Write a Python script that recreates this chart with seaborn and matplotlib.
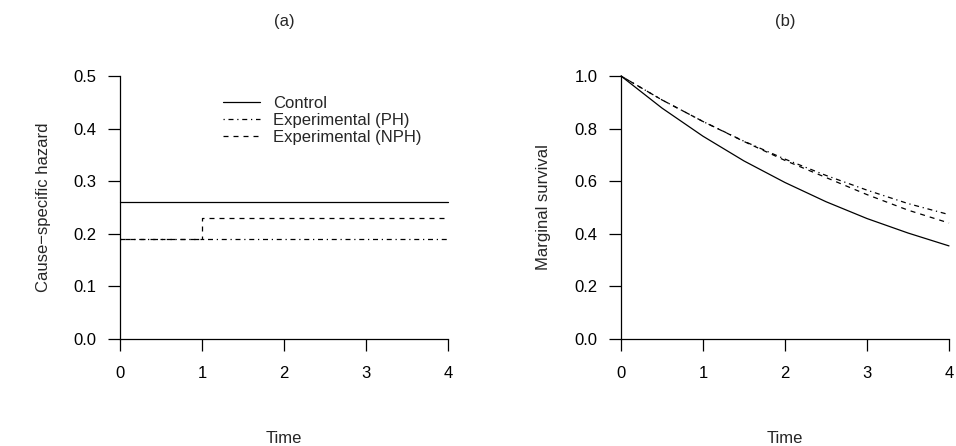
import numpy as np
import pandas as pd
import matplotlib
matplotlib.use("Agg")
import matplotlib.pyplot as plt
import seaborn as sns

# panel (a): cause-specific hazards (step functions)
haz_time = [0, 1, 4]
haz_control = [0.26, 0.26, 0.26]
haz_ph = [0.19, 0.19, 0.19]
haz_nph = [0.19, 0.23, 0.23]

# panel (b): marginal survival
surv_time = [0, 0.5, 1, 1.5, 2, 2.5, 3, 3.5, 4]
surv_control = [1.0, 0.878, 0.771, 0.677, 0.595, 0.522, 0.458, 0.403, 0.354]
surv_ph = [1.0, 0.909, 0.827, 0.752, 0.684, 0.622, 0.566, 0.515, 0.473]
surv_nph = [1.0, 0.909, 0.827, 0.751, 0.679, 0.614, 0.549, 0.490, 0.441]

labels = ["Control", "Experimental (PH)", "Experimental (NPH)"]
styles = ["-", (0, (1, 3, 4, 3)), (0, (4, 4))]

sns.set_style("ticks")
plt.rcParams['font.family'] = ['Liberation Sans', 'DejaVu Sans']
FS = 12

fig = plt.figure(figsize=(9.56, 4.46), dpi=100)
ax_a = fig.add_axes([120 / 956, 107 / 446, 328 / 956, 263 / 446])
ax_b = fig.add_axes([621 / 956, 107 / 446, 328 / 956, 263 / 446])

for vals, lab, ls in zip([haz_control, haz_ph, haz_nph], labels, styles):
    sns.lineplot(x=haz_time, y=vals, ax=ax_a, color="black", linewidth=0.9,
                 linestyle=ls, drawstyle="steps-post", label=lab, clip_on=False)

for vals, ls in zip([surv_control, surv_ph, surv_nph], styles):
    sns.lineplot(x=surv_time, y=vals, ax=ax_b, color="black", linewidth=0.9,
                 linestyle=ls, clip_on=False)

ax_a.legend(loc="upper left", bbox_to_anchor=(0.29, 0.955), frameon=False,
            borderpad=0, handlelength=2.2, handletextpad=0.8, labelspacing=0.12,
            fontsize=FS)

for ax, ymax, ylab, title, ypad in [(ax_a, 0.5, "Cause\u2212specific hazard", "(a)", 16),
                                    (ax_b, 1.0, "Marginal survival", "(b)", 17)]:
    ax.set_xlim(0, 4)
    ax.set_ylim(0, ymax)
    ax.set_xticks([0, 1, 2, 3, 4])
    ax.set_yticks(np.linspace(0, ymax, 6))
    ax.set_yticklabels([f"{v:.1f}" for v in np.linspace(0, ymax, 6)])
    ax.spines["top"].set_visible(False)
    ax.spines["right"].set_visible(False)
    for s in ["left", "bottom"]:
        ax.spines[s].set_linewidth(0.9)
        ax.spines[s].set_color("black")
    ax.tick_params(axis="both", direction="out", length=8.6, width=0.9,
                   colors="black", labelsize=FS)
    ax.tick_params(axis="x", pad=11)
    ax.tick_params(axis="y", pad=8.5)
    ax.set_xlabel("Time", fontsize=FS, labelpad=36)
    ax.set_ylabel(ylab, fontsize=FS, labelpad=ypad)
    ax.set_title(title, fontsize=FS, pad=36)

fig.savefig("out.png", dpi=100)
